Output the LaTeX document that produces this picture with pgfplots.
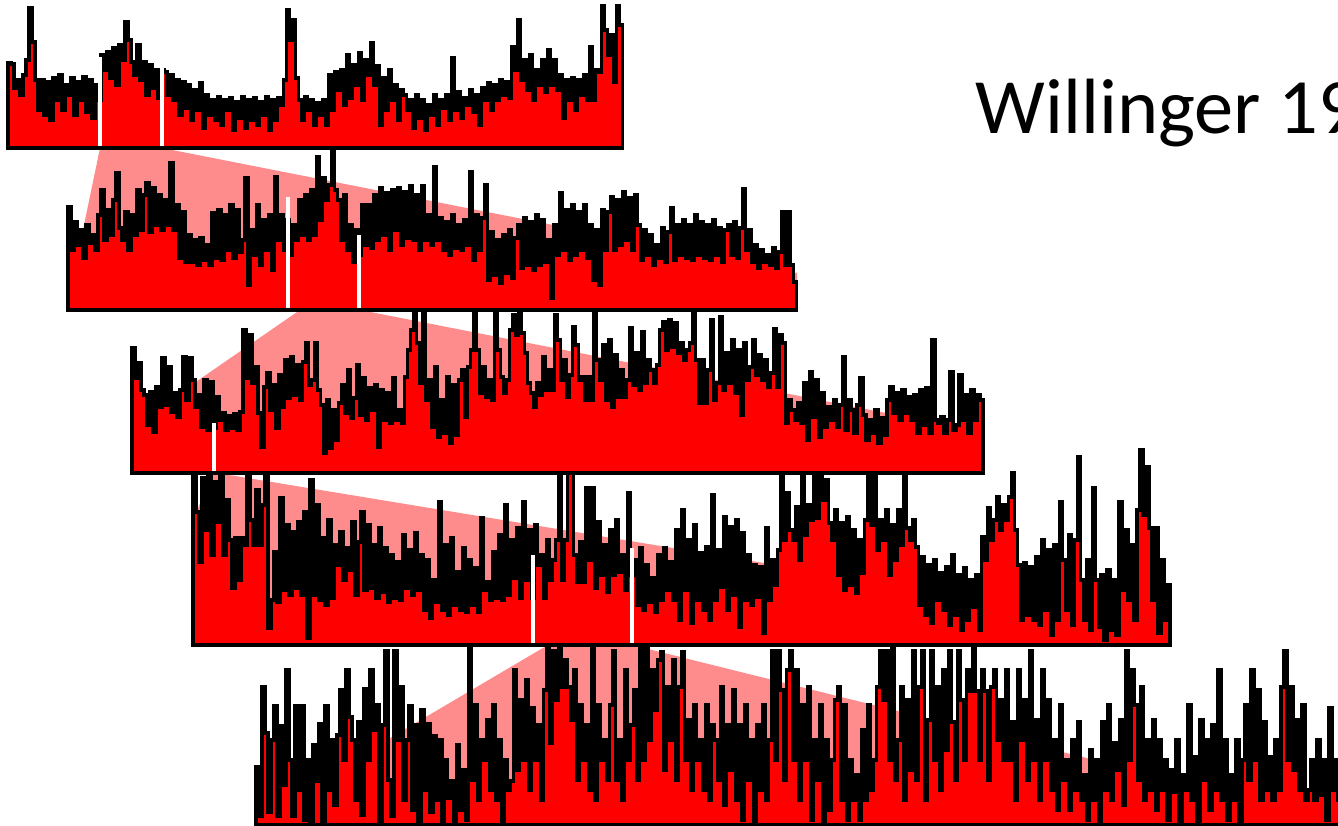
\documentclass[border=0pt]{standalone}
\usepackage{pgfplots}
\pgfplotsset{compat=1.18}
\usepackage{pgfplotstable}
\usepackage{fontspec}
\newfontfamily\carlito{Carlito}
\definecolor{pinkc}{RGB}{255,140,140}
% panel 1 (x 8..623, baseline 148), values = top edge in pixel rows
\pgfplotstableread[header=false,row sep=\\]{
148\\
63\\64\\88\\80\\95\\75\\60\\8\\42\\80\\
110\\80\\115\\82\\120\\78\\100\\75\\110\\85\\
95\\78\\115\\82\\100\\77\\112\\80\\118\\85\\
100\\55\\70\\52\\78\\48\\85\\45\\60\\22\\
40\\62\\75\\45\\80\\62\\95\\65\\88\\70\\
98\\70\\72\\95\\75\\100\\80\\115\\82\\108\\
85\\120\\90\\110\\83\\128\\95\\115\\100\\120\\
97\\125\\100\\110\\98\\130\\102\\118\\97\\128\\
100\\120\\98\\125\\102\\115\\97\\130\\100\\120\\
98\\105\\80\\10\\40\\20\\78\\100\\120\\97\\
110\\100\\125\\103\\115\\100\\125\\75\\110\\72\\
90\\70\\105\\55\\98\\65\\85\\53\\100\\60\\
75\\43\\85\\66\\125\\78\\110\\70\\100\\85\\
120\\90\\95\\110\\100\\128\\95\\118\\100\\130\\
105\\115\\95\\125\\100\\108\\95\\120\\58\\110\\
92\\118\\98\\105\\90\\112\\95\\125\\88\\100\\
83\\110\\85\\100\\80\\95\\82\\98\\47\\70\\
20\\80\\60\\90\\55\\100\\70\\85\\60\\92\\
50\\85\\60\\90\\75\\118\\80\\100\\78\\110\\
80\\95\\75\\100\\47\\100\\70\\72\\6\\30\\
55\\35\\82\\6\\25\\
148\\
}\pA
% panel 2 (x 68..797, baseline 310)
\pgfplotstableread[header=false,row sep=\\]{
310\\
207\\250\\222\\245\\230\\258\\225\\243\\235\\250\\
215\\190\\240\\210\\235\\200\\173\\228\\240\\212\\
250\\215\\235\\190\\230\\195\\183\\232\\188\\225\\
195\\230\\200\\225\\163\\230\\205\\258\\212\\262\\
235\\262\\240\\265\\238\\260\\245\\265\\213\\258\\
210\\260\\215\\250\\205\\258\\210\\252\\240\\178\\
285\\230\\255\\205\\265\\220\\250\\215\\270\\177\\
240\\215\\250\\220\\255\\225\\240\\200\\235\\195\\
240\\190\\235\\157\\220\\178\\200\\185\\150\\190\\
200\\240\\195\\250\\225\\262\\230\\255\\205\\245\\
205\\248\\195\\240\\188\\235\\193\\250\\190\\230\\
188\\245\\192\\238\\186\\240\\195\\250\\186\\240\\
215\\245\\167\\240\\218\\250\\222\\255\\215\\248\\
225\\250\\220\\245\\172\\260\\215\\250\\218\\185\\
280\\232\\275\\240\\283\\235\\273\\230\\278\\238\\
225\\268\\218\\265\\222\\270\\215\\265\\220\\262\\
240\\298\\225\\255\\193\\250\\210\\260\\205\\255\\
212\\250\\205\\258\\225\\280\\230\\285\\210\\250\\
212\\197\\250\\200\\245\\192\\240\\198\\250\\195\\
225\\260\\230\\255\\235\\265\\245\\258\\228\\262\\
232\\208\\260\\225\\255\\220\\258\\225\\260\\215\\
255\\222\\258\\225\\260\\220\\255\\228\\262\\230\\
225\\255\\222\\258\\228\\189\\250\\230\\262\\245\\
268\\250\\262\\255\\265\\248\\268\\252\\212\\265\\
212\\265\\282\\
310\\
}\pB
% panel 3 (x 132..983, baseline 473)
\pgfplotstableread[header=false,row sep=\\]{
473\\
348\\378\\363\\390\\395\\425\\392\\432\\387\\407\\
358\\405\\367\\412\\393\\417\\390\\357\\400\\358\\
380\\407\\395\\427\\380\\430\\382\\428\\397\\420\\
413\\430\\416\\428\\414\\430\\412\\330\\378\\335\\
383\\367\\413\\447\\387\\373\\410\\385\\428\\375\\
407\\360\\398\\357\\395\\365\\400\\362\\343\\385\\
380\\343\\390\\405\\453\\400\\448\\410\\440\\403\\
385\\413\\370\\418\\398\\365\\415\\378\\420\\388\\
410\\385\\447\\390\\420\\393\\423\\378\\420\\410\\
423\\377\\350\\330\\313\\343\\383\\312\\400\\380\\
427\\367\\437\\400\\433\\377\\443\\385\\435\\380\\
370\\417\\367\\350\\312\\350\\393\\367\\397\\380\\
400\\312\\350\\377\\393\\380\\330\\315\\335\\312\\
333\\353\\383\\393\\407\\383\\395\\357\\390\\370\\
390\\315\\340\\380\\360\\397\\375\\327\\345\\380\\
377\\400\\377\\400\\312\\360\\380\\345\\400\\340\\
407\\355\\397\\370\\397\\380\\328\\385\\353\\390\\
332\\383\\360\\370\\383\\365\\330\\322\\350\\320\\
347\\323\\353\\343\\360\\350\\343\\312\\360\\403\\
360\\403\\370\\320\\400\\383\\317\\390\\353\\383\\
340\\393\\350\\415\\343\\380\\367\\340\\375\\355\\
380\\360\\387\\373\\329\\387\\335\\343\\423\\400\\
410\\420\\403\\423\\383\\440\\372\\417\\380\\437\\
393\\427\\407\\420\\400\\427\\405\\357\\430\\400\\
410\\433\\405\\378\\415\\440\\420\\433\\410\\443\\
418\\435\\400\\387\\413\\393\\420\\390\\413\\397\\
420\\395\\433\\390\\425\\388\\433\\340\\420\\423\\
417\\433\\420\\372\\430\\425\\375\\420\\395\\433\\
390\\420\\395\\400\\
473\\
}\pC
% panel 4 (x 193..1171, baseline 645)
\pgfplotstableread[header=false,row sep=\\]{
645\\
473\\512\\562\\478\\530\\473\\555\\482\\522\\475\\
555\\500\\540\\588\\538\\580\\538\\545\\473\\520\\
545\\490\\545\\505\\475\\628\\600\\552\\602\\498\\
590\\525\\595\\532\\588\\522\\595\\512\\638\\480\\
595\\505\\600\\538\\605\\520\\598\\545\\565\\532\\
580\\548\\570\\522\\595\\542\\512\\590\\525\\588\\
545\\598\\528\\592\\548\\602\\555\\598\\562\\600\\
535\\588\\550\\595\\533\\590\\555\\610\\560\\618\\
580\\602\\502\\610\\545\\615\\538\\605\\572\\610\\
548\\612\\560\\605\\568\\612\\518\\590\\582\\600\\
552\\598\\535\\600\\505\\595\\540\\578\\528\\598\\
502\\580\\530\\598\\525\\565\\555\\598\\540\\580\\
560\\540\\473\\580\\540\\473\\473\\555\\582\\542\\
582\\488\\560\\488\\588\\522\\575\\545\\592\\530\\
575\\520\\572\\555\\590\\493\\575\\560\\605\\548\\
610\\565\\602\\578\\612\\555\\600\\548\\590\\562\\
600\\530\\620\\510\\590\\540\\623\\525\\600\\553\\
610\\547\\620\\495\\600\\550\\587\\517\\610\\527\\
595\\520\\627\\533\\600\\555\\605\\565\\597\\567\\
633\\528\\600\\560\\585\\550\\473\\540\\493\\530\\
540\\507\\560\\473\\535\\505\\520\\473\\518\\473\\
500\\480\\523\\540\\510\\575\\523\\590\\517\\585\\
530\\593\\540\\573\\520\\473\\525\\473\\550\\520\\
540\\510\\575\\525\\560\\510\\545\\473\\528\\540\\
520\\547\\605\\557\\615\\565\\623\\560\\600\\573\\
610\\567\\625\\555\\615\\575\\630\\568\\620\\580\\
607\\575\\630\\537\\560\\508\\540\\520\\497\\530\\
505\\520\\497\\473\\530\\565\\620\\563\\615\\567\\
620\\557\\625\\540\\610\\550\\635\\545\\620\\502\\
560\\610\\535\\625\\540\\457\\580\\620\\560\\630\\
488\\580\\627\\575\\640\\570\\630\\580\\635\\502\\
590\\530\\600\\545\\620\\510\\450\\515\\467\\528\\
600\\528\\633\\560\\620\\585\\
645\\
}\pD
% panel 5 (x 256..1348, baseline 825)
\pgfplotstableread[header=false,row sep=\\]{
825\\
767\\816\\687\\733\\812\\740\\706\\816\\726\\785\\
670\\760\\816\\706\\790\\706\\820\\760\\825\\745\\
781\\724\\823\\706\\790\\740\\805\\735\\690\\760\\
670\\717\\740\\800\\722\\815\\689\\760\\670\\730\\
705\\823\\725\\651\\780\\816\\651\\740\\687\\800\\
740\\706\\810\\725\\825\\710\\790\\724\\812\\736\\
800\\740\\825\\760\\798\\781\\825\\745\\810\\770\\
820\\647\\780\\705\\800\\740\\760\\720\\790\\705\\
800\\740\\825\\760\\790\\781\\670\\770\\700\\760\\
680\\790\\708\\760\\725\\800\\690\\647\\743\\651\\
700\\647\\687\\660\\687\\720\\670\\780\\705\\760\\
725\\790\\647\\800\\705\\760\\740\\780\\705\\651\\
780\\740\\800\\670\\760\\725\\690\\780\\647\\760\\
647\\740\\670\\710\\660\\652\\770\\687\\740\\660\\
780\\687\\652\\760\\720\\790\\705\\760\\740\\790\\
705\\800\\725\\740\\780\\687\\805\\725\\770\\690\\
800\\725\\820\\705\\780\\740\\825\\725\\790\\705\\
800\\740\\651\\760\\651\\690\\780\\670\\651\\760\\
670\\800\\705\\760\\687\\820\\740\\780\\705\\825\\
740\\810\\760\\700\\687\\800\\705\\820\\760\\800\\
775\\820\\730\\800\\705\\790\\760\\687\\651\\700\\
651\\760\\645\\780\\740\\687\\800\\700\\770\\651\\
780\\687\\651\\800\\720\\651\\760\\687\\790\\670\\
750\\651\\722\\780\\651\\700\\760\\670\\691\\645\\
691\\760\\670\\691\\780\\687\\670\\740\\700\\760\\
670\\760\\722\\800\\670\\740\\700\\780\\651\\760\\
720\\800\\670\\760\\700\\790\\740\\810\\705\\780\\
760\\810\\740\\790\\722\\800\\775\\820\\750\\800\\
760\\825\\722\\790\\705\\800\\743\\770\\720\\805\\
651\\760\\670\\705\\780\\687\\800\\740\\790\\720\\
810\\740\\790\\760\\820\\770\\792\\740\\825\\775\\
790\\705\\800\\757\\825\\720\\780\\740\\810\\725\\
790\\670\\800\\740\\820\\775\\800\\740\\825\\760\\
705\\780\\670\\760\\690\\800\\722\\790\\757\\800\\
740\\790\\687\\651\\760\\687\\770\\720\\790\\705\\
800\\790\\760\\800\\740\\795\\760\\820\\708\\790\\
760\\800\\740\\780\\
825\\
}\pE
\begin{document}
\begin{tikzpicture}
\useasboundingbox (0,0) rectangle (133.8mm,82.6mm);
\clip (0,0) rectangle (133.8mm,82.6mm);
\pgfplotstablegetrowsof{\pA}\pgfmathsetmacro\sA{(622.4-8)/(\pgfplotsretval-2)}
\pgfplotstablegetrowsof{\pB}\pgfmathsetmacro\sB{(796.3-68)/(\pgfplotsretval-2)}
\pgfplotstablegetrowsof{\pC}\pgfmathsetmacro\sC{(983-132)/(\pgfplotsretval-2)}
\pgfplotstablegetrowsof{\pD}\pgfmathsetmacro\sD{(1170.1-193)/(\pgfplotsretval-2)}
\pgfplotstablegetrowsof{\pE}\pgfmathsetmacro\sE{(1347-256)/(\pgfplotsretval-2)}
\begin{axis}[at={(0,0)}, anchor=south west, scale only axis,
  width=133.8mm, height=82.6mm, xmin=0, xmax=1338, ymin=0, ymax=826,
  y dir=reverse, hide axis, enlargelimits=false,
  panel/.style={const plot, draw=black, fill=red, line width=0.95pt},
  zoomband/.style={fill=pinkc, draw=none}]
% zoom bands
\addplot[zoomband] coordinates {(100,148) (162,148) (797,273) (797,310) (68,310) (68,302)} -- cycle;
\addplot[zoomband] coordinates {(300,310) (360,310) (983,432) (983,473) (132,473) (132,426)} -- cycle;
\addplot[zoomband] coordinates {(213,473) (217,473) (1171,630) (1171,645) (193,645) (193,520)} -- cycle;
\addplot[zoomband] coordinates {(548,645) (632,645) (1348,823) (1348,825) (256,825) (256,817)} -- cycle;
% panels
\addplot[panel] table[x expr={max(8,8-\sA+\coordindex*\sA)}, y index=0]{\pA} -- cycle;
\addplot[panel] table[x expr={max(68,68-\sB+\coordindex*\sB)}, y index=0]{\pB} -- cycle;
\addplot[panel] table[x expr={max(132,132-\sC+\coordindex*\sC)}, y index=0]{\pC} -- cycle;
\addplot[panel] table[x expr={max(193,193-\sD+\coordindex*\sD)}, y index=0]{\pD} -- cycle;
\addplot[panel] table[x expr={max(256,256-\sE+\coordindex*\sE)}, y index=0]{\pE} -- cycle;
% zoom markers
\addplot[white, line width=0.9pt] coordinates {(100,146.5) (100,57)};
\addplot[white, line width=0.9pt] coordinates {(162,146.5) (162,68)};
\addplot[white, line width=0.9pt] coordinates {(288,308.5) (288,197)};
\addplot[white, line width=0.9pt] coordinates {(359,308.5) (359,235)};
\addplot[white, line width=0.9pt] coordinates {(214,471.5) (214,423)};
\addplot[white, line width=0.9pt] coordinates {(533,643.5) (533,555)};
\addplot[white, line width=0.9pt] coordinates {(632,643.5) (632,548)};
\node[anchor=base west, inner sep=0pt, font=\carlito\fontsize{22.3}{26}\selectfont] at (axis cs:975,134) {Willinger 19};
\end{axis}
\end{tikzpicture}
\end{document}
